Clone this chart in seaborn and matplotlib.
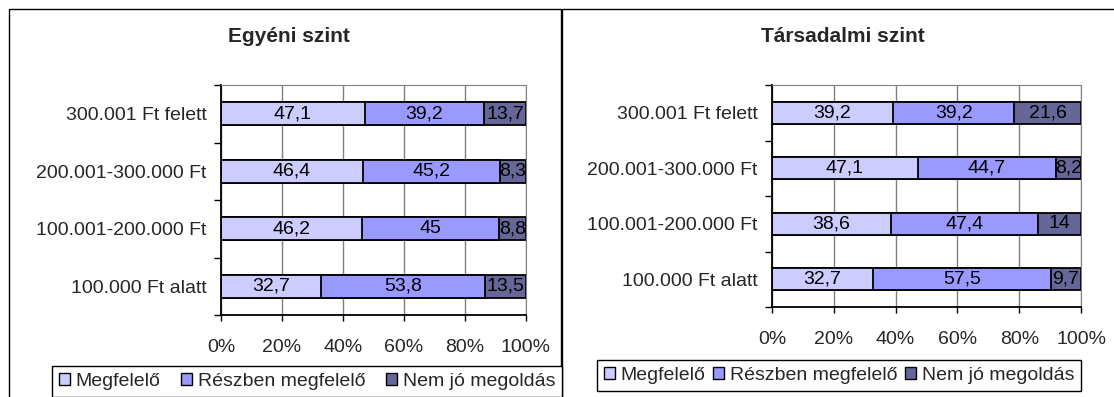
import matplotlib
matplotlib.use("Agg")
import matplotlib.pyplot as plt
import numpy as np
import pandas as pd
import seaborn as sns
from matplotlib.patches import Rectangle, Patch
from matplotlib.ticker import FixedLocator, PercentFormatter

sns.set_style("white")
plt.rcParams['font.family'] = ['Liberation Sans', 'DejaVu Sans']

categories = ['300.001 Ft felett', '200.001-300.000 Ft', '100.001-200.000 Ft', '100.000 Ft alatt']
series = ['Megfelelő', 'Részben megfelelő', 'Nem jó megoldás']

egyeni_megfelelo = [47.1, 46.4, 46.2, 32.7]
egyeni_reszben = [39.2, 45.2, 45.0, 53.8]
egyeni_nemjo = [13.7, 8.3, 8.8, 13.5]

tars_megfelelo = [39.2, 47.1, 38.6, 32.7]
tars_reszben = [39.2, 44.7, 47.4, 57.5]
tars_nemjo = [21.6, 8.2, 14.0, 9.7]

colors = ['#CCCCFF', '#9999FF', '#666699']

W, H = 1114, 397
fig = plt.figure(figsize=(W / 100, H / 100), dpi=100)


def fx(px):
    return px / W


def fy(py):
    return 1 - py / H


def panel(box, title, title_x, vals, legend_box):
    x0, y0, x1, y1 = box
    ax = fig.add_axes([fx(x0), fy(y1), fx(x1 - x0), (y1 - y0) / H])
    df = pd.DataFrame({'cat': categories})
    for s, v in zip(series, vals):
        df[s] = v
    cum = df[series].cumsum(axis=1)
    # draw totals first, then smaller cumulative sums on top
    for i in range(len(series) - 1, -1, -1):
        sns.barplot(x=cum[series[i]], y=df['cat'], order=categories, color=colors[i],
                    edgecolor='black', linewidth=1.3, width=0.4, orient='h',
                    saturation=1, ax=ax)
    for i, s in enumerate(series):
        for j in range(len(categories)):
            v = df[s].iloc[j]
            c = cum[s].iloc[j] - v / 2
            ax.text(c, j, f"{v:g}".replace('.', ','), ha='center', va='center',
                    fontsize=14, color='black')
    ax.set_xlim(0, 100)
    ax.set_ylim(len(categories) - 0.5, -0.5)
    ax.set_xlabel('')
    ax.set_ylabel('')
    ax.xaxis.set_major_locator(FixedLocator([0, 20, 40, 60, 80, 100]))
    ax.xaxis.set_major_formatter(PercentFormatter(decimals=0))
    ax.grid(axis='x', color='#808080', linewidth=1)
    ax.set_axisbelow(True)
    ax.yaxis.set_minor_locator(FixedLocator(np.arange(-0.5, len(categories), 1)))
    ax.tick_params(axis='y', which='major', length=0, pad=10.5, labelsize=14)
    ax.tick_params(axis='y', which='minor', length=5, width=1, color='black', left=True, direction='out')
    ax.tick_params(axis='x', which='major', length=4, width=1, color='black', bottom=True,
                   direction='out', pad=13, labelsize=14)
    for side in ['top', 'right']:
        ax.spines[side].set_visible(True)
        ax.spines[side].set_color('#808080')
    for side in ['left', 'bottom']:
        ax.spines[side].set_visible(True)
        ax.spines[side].set_color('black')
        ax.spines[side].set_linewidth(1.3)
    fig.text(fx(title_x), fy(37), title, ha='center', va='center', fontsize=15, fontweight='bold')
    handles = [Patch(facecolor=c, edgecolor='black', linewidth=1) for c in colors]
    lx0, ly0, lx1, ly1 = legend_box
    fig.legend(handles, series, loc='upper left', ncol=3, mode='expand',
               bbox_to_anchor=(fx(lx0), fy(ly1), fx(lx1 - lx0), (ly1 - ly0) / H),
               fontsize=14, frameon=True, fancybox=False, edgecolor='black',
               framealpha=1, handlelength=0.55, handleheight=0.55, handletextpad=0.3,
               borderpad=0.35, borderaxespad=0, columnspacing=0.4)
    return ax


panel((221, 85, 526, 315), 'Egyéni szint', 289,
      [egyeni_megfelelo, egyeni_reszben, egyeni_nemjo], (52, 366, 562, 405))
panel((772, 85, 1081, 307), 'Társadalmi szint', 843,
      [tars_megfelelo, tars_reszben, tars_nemjo], (597, 360, 1081, 400))

# chart area frames
fig.add_artist(Rectangle((fx(9), fy(420)), fx(552), 411 / H, transform=fig.transFigure,
                         fill=False, edgecolor='black', linewidth=1))
fig.add_artist(Rectangle((fx(562), fy(420)), fx(560), 411 / H, transform=fig.transFigure,
                         fill=False, edgecolor='black', linewidth=1))

fig.savefig('out.png', dpi=100)
